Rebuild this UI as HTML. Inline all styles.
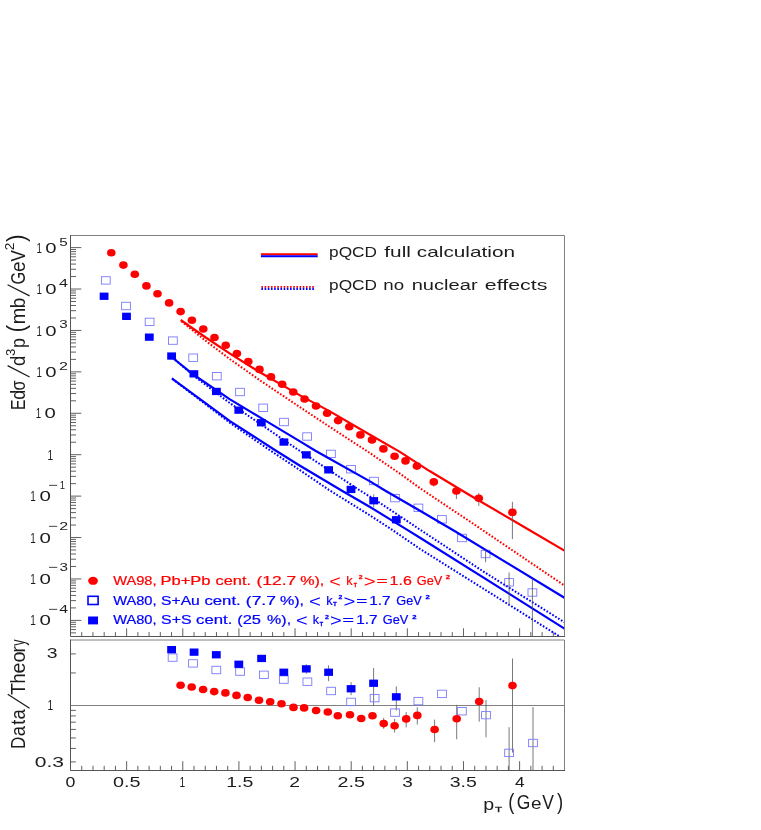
<!DOCTYPE html>
<html><head><meta charset="utf-8"><title>pQCD</title>
<style>html,body{margin:0;padding:0;background:#fff}svg{display:block;will-change:transform}text{font-family:"Liberation Sans",sans-serif}</style>
</head><body>
<svg width="761" height="830" viewBox="0 0 761 830">
<rect width="761" height="830" fill="#fff"/>
<defs><clipPath id="c1"><rect x="70.5" y="235.5" width="494.0" height="401.0"/></clipPath><clipPath id="c2"><rect x="70.5" y="640.0" width="494.0" height="130.5"/></clipPath></defs>
<g stroke="#606060" stroke-width="1" fill="none">
<path d="M70.5,632.85h5.5"/>
<path d="M70.5,629.57h5.5"/>
<path d="M70.5,626.80h5.5"/>
<path d="M70.5,624.39h5.5"/>
<path d="M70.5,622.28h5.5"/>
<path d="M70.5,620.38h10.8"/>
<path d="M70.5,607.91h5.5"/>
<path d="M70.5,600.62h5.5"/>
<path d="M70.5,595.44h5.5"/>
<path d="M70.5,591.43h5.5"/>
<path d="M70.5,588.15h5.5"/>
<path d="M70.5,585.38h5.5"/>
<path d="M70.5,582.97h5.5"/>
<path d="M70.5,580.86h5.5"/>
<path d="M70.5,578.96h10.8"/>
<path d="M70.5,566.49h5.5"/>
<path d="M70.5,559.20h5.5"/>
<path d="M70.5,554.02h5.5"/>
<path d="M70.5,550.01h5.5"/>
<path d="M70.5,546.73h5.5"/>
<path d="M70.5,543.96h5.5"/>
<path d="M70.5,541.55h5.5"/>
<path d="M70.5,539.44h5.5"/>
<path d="M70.5,537.54h10.8"/>
<path d="M70.5,525.07h5.5"/>
<path d="M70.5,517.78h5.5"/>
<path d="M70.5,512.60h5.5"/>
<path d="M70.5,508.59h5.5"/>
<path d="M70.5,505.31h5.5"/>
<path d="M70.5,502.54h5.5"/>
<path d="M70.5,500.13h5.5"/>
<path d="M70.5,498.02h5.5"/>
<path d="M70.5,496.12h10.8"/>
<path d="M70.5,483.65h5.5"/>
<path d="M70.5,476.36h5.5"/>
<path d="M70.5,471.18h5.5"/>
<path d="M70.5,467.17h5.5"/>
<path d="M70.5,463.89h5.5"/>
<path d="M70.5,461.12h5.5"/>
<path d="M70.5,458.71h5.5"/>
<path d="M70.5,456.60h5.5"/>
<path d="M70.5,454.70h10.8"/>
<path d="M70.5,442.23h5.5"/>
<path d="M70.5,434.94h5.5"/>
<path d="M70.5,429.76h5.5"/>
<path d="M70.5,425.75h5.5"/>
<path d="M70.5,422.47h5.5"/>
<path d="M70.5,419.70h5.5"/>
<path d="M70.5,417.29h5.5"/>
<path d="M70.5,415.18h5.5"/>
<path d="M70.5,413.28h10.8"/>
<path d="M70.5,400.81h5.5"/>
<path d="M70.5,393.52h5.5"/>
<path d="M70.5,388.34h5.5"/>
<path d="M70.5,384.33h5.5"/>
<path d="M70.5,381.05h5.5"/>
<path d="M70.5,378.28h5.5"/>
<path d="M70.5,375.87h5.5"/>
<path d="M70.5,373.76h5.5"/>
<path d="M70.5,371.86h10.8"/>
<path d="M70.5,359.39h5.5"/>
<path d="M70.5,352.10h5.5"/>
<path d="M70.5,346.92h5.5"/>
<path d="M70.5,342.91h5.5"/>
<path d="M70.5,339.63h5.5"/>
<path d="M70.5,336.86h5.5"/>
<path d="M70.5,334.45h5.5"/>
<path d="M70.5,332.34h5.5"/>
<path d="M70.5,330.44h10.8"/>
<path d="M70.5,317.97h5.5"/>
<path d="M70.5,310.68h5.5"/>
<path d="M70.5,305.50h5.5"/>
<path d="M70.5,301.49h5.5"/>
<path d="M70.5,298.21h5.5"/>
<path d="M70.5,295.44h5.5"/>
<path d="M70.5,293.03h5.5"/>
<path d="M70.5,290.92h5.5"/>
<path d="M70.5,289.02h10.8"/>
<path d="M70.5,276.55h5.5"/>
<path d="M70.5,269.26h5.5"/>
<path d="M70.5,264.08h5.5"/>
<path d="M70.5,260.07h5.5"/>
<path d="M70.5,256.79h5.5"/>
<path d="M70.5,254.02h5.5"/>
<path d="M70.5,251.61h5.5"/>
<path d="M70.5,249.50h5.5"/>
<path d="M70.5,247.60h10.8"/>
<path d="M81.73,636.5v-4.4"/>
<path d="M92.96,636.5v-4.4"/>
<path d="M104.18,636.5v-4.4"/>
<path d="M115.41,636.5v-4.4"/>
<path d="M126.64,636.5v-8.2"/>
<path d="M137.87,636.5v-4.4"/>
<path d="M149.10,636.5v-4.4"/>
<path d="M160.32,636.5v-4.4"/>
<path d="M171.55,636.5v-4.4"/>
<path d="M182.78,636.5v-8.2"/>
<path d="M194.01,636.5v-4.4"/>
<path d="M205.24,636.5v-4.4"/>
<path d="M216.46,636.5v-4.4"/>
<path d="M227.69,636.5v-4.4"/>
<path d="M238.92,636.5v-8.2"/>
<path d="M250.15,636.5v-4.4"/>
<path d="M261.38,636.5v-4.4"/>
<path d="M272.60,636.5v-4.4"/>
<path d="M283.83,636.5v-4.4"/>
<path d="M295.06,636.5v-8.2"/>
<path d="M306.29,636.5v-4.4"/>
<path d="M317.52,636.5v-4.4"/>
<path d="M328.74,636.5v-4.4"/>
<path d="M339.97,636.5v-4.4"/>
<path d="M351.20,636.5v-8.2"/>
<path d="M362.43,636.5v-4.4"/>
<path d="M373.66,636.5v-4.4"/>
<path d="M384.88,636.5v-4.4"/>
<path d="M396.11,636.5v-4.4"/>
<path d="M407.34,636.5v-8.2"/>
<path d="M418.57,636.5v-4.4"/>
<path d="M429.80,636.5v-4.4"/>
<path d="M441.02,636.5v-4.4"/>
<path d="M452.25,636.5v-4.4"/>
<path d="M463.48,636.5v-8.2"/>
<path d="M474.71,636.5v-4.4"/>
<path d="M485.94,636.5v-4.4"/>
<path d="M497.16,636.5v-4.4"/>
<path d="M508.39,636.5v-4.4"/>
<path d="M519.62,636.5v-8.2"/>
<path d="M530.85,636.5v-4.4"/>
<path d="M542.08,636.5v-4.4"/>
<path d="M553.30,636.5v-4.4"/>
<path d="M81.73,770.5v-4.7"/>
<path d="M92.96,770.5v-4.7"/>
<path d="M104.18,770.5v-4.7"/>
<path d="M115.41,770.5v-4.7"/>
<path d="M126.64,770.5v-9.3"/>
<path d="M137.87,770.5v-4.7"/>
<path d="M149.10,770.5v-4.7"/>
<path d="M160.32,770.5v-4.7"/>
<path d="M171.55,770.5v-4.7"/>
<path d="M182.78,770.5v-9.3"/>
<path d="M194.01,770.5v-4.7"/>
<path d="M205.24,770.5v-4.7"/>
<path d="M216.46,770.5v-4.7"/>
<path d="M227.69,770.5v-4.7"/>
<path d="M238.92,770.5v-9.3"/>
<path d="M250.15,770.5v-4.7"/>
<path d="M261.38,770.5v-4.7"/>
<path d="M272.60,770.5v-4.7"/>
<path d="M283.83,770.5v-4.7"/>
<path d="M295.06,770.5v-9.3"/>
<path d="M306.29,770.5v-4.7"/>
<path d="M317.52,770.5v-4.7"/>
<path d="M328.74,770.5v-4.7"/>
<path d="M339.97,770.5v-4.7"/>
<path d="M351.20,770.5v-9.3"/>
<path d="M362.43,770.5v-4.7"/>
<path d="M373.66,770.5v-4.7"/>
<path d="M384.88,770.5v-4.7"/>
<path d="M396.11,770.5v-4.7"/>
<path d="M407.34,770.5v-9.3"/>
<path d="M418.57,770.5v-4.7"/>
<path d="M429.80,770.5v-4.7"/>
<path d="M441.02,770.5v-4.7"/>
<path d="M452.25,770.5v-4.7"/>
<path d="M463.48,770.5v-9.3"/>
<path d="M474.71,770.5v-4.7"/>
<path d="M485.94,770.5v-4.7"/>
<path d="M497.16,770.5v-4.7"/>
<path d="M508.39,770.5v-4.7"/>
<path d="M519.62,770.5v-9.3"/>
<path d="M530.85,770.5v-4.7"/>
<path d="M542.08,770.5v-4.7"/>
<path d="M553.30,770.5v-4.7"/>
<path d="M70.5,653.92h5.3"/>
<path d="M70.5,672.94h5.3"/>
<path d="M70.5,710.39h5.3"/>
<path d="M70.5,715.92h5.3"/>
<path d="M70.5,722.18h5.3"/>
<path d="M70.5,729.41h5.3"/>
<path d="M70.5,737.96h5.3"/>
<path d="M70.5,748.43h5.3"/>
<path d="M70.5,761.92h5.3"/>
<path d="M70.5,705.5H564.5" stroke="#808080"/>
</g>
<rect x="101.4" y="276.7" width="8.8" height="7.4" fill="none" stroke="#7a7aff" stroke-width="0.9"/>
<rect x="121.6" y="302.3" width="8.8" height="7.4" fill="none" stroke="#7a7aff" stroke-width="0.9"/>
<rect x="145.2" y="318.2" width="8.8" height="7.4" fill="none" stroke="#7a7aff" stroke-width="0.9"/>
<rect x="168.5" y="336.9" width="8.8" height="7.4" fill="none" stroke="#7a7aff" stroke-width="0.9"/>
<rect x="188.8" y="354.0" width="8.8" height="7.4" fill="none" stroke="#7a7aff" stroke-width="0.9"/>
<rect x="212.4" y="372.5" width="8.8" height="7.4" fill="none" stroke="#7a7aff" stroke-width="0.9"/>
<rect x="235.6" y="388.3" width="8.8" height="7.4" fill="none" stroke="#7a7aff" stroke-width="0.9"/>
<rect x="258.8" y="404.1" width="8.8" height="7.4" fill="none" stroke="#7a7aff" stroke-width="0.9"/>
<rect x="279.6" y="418.3" width="8.8" height="7.4" fill="none" stroke="#7a7aff" stroke-width="0.9"/>
<rect x="302.7" y="432.8" width="8.8" height="7.4" fill="none" stroke="#7a7aff" stroke-width="0.9"/>
<rect x="326.5" y="450.2" width="8.8" height="7.4" fill="none" stroke="#7a7aff" stroke-width="0.9"/>
<rect x="346.6" y="465.5" width="8.8" height="7.4" fill="none" stroke="#7a7aff" stroke-width="0.9"/>
<rect x="369.6" y="477.3" width="8.8" height="7.4" fill="none" stroke="#7a7aff" stroke-width="0.9"/>
<rect x="390.6" y="494.4" width="8.8" height="7.4" fill="none" stroke="#7a7aff" stroke-width="0.9"/>
<rect x="414.0" y="504.1" width="8.8" height="7.4" fill="none" stroke="#7a7aff" stroke-width="0.9"/>
<rect x="437.5" y="515.6" width="8.8" height="7.4" fill="none" stroke="#7a7aff" stroke-width="0.9"/>
<rect x="457.6" y="534.3" width="8.8" height="7.4" fill="none" stroke="#7a7aff" stroke-width="0.9"/>
<rect x="481.2" y="550.3" width="8.8" height="7.4" fill="none" stroke="#7a7aff" stroke-width="0.9"/>
<rect x="504.7" y="578.6" width="8.8" height="7.4" fill="none" stroke="#7a7aff" stroke-width="0.9"/>
<rect x="528.0" y="588.8" width="8.8" height="7.4" fill="none" stroke="#7a7aff" stroke-width="0.9"/>
<g clip-path="url(#c1)">
<path d="M181.5,321.3 L205.0,340.3 L230.0,359.2 L259.9,380.3 L300.0,407.2 L329.9,427.0 L370.0,453.1 L399.9,473.6 L420.0,488.2 L469.9,521.5 L564.8,585.8" stroke="#ff0000" stroke-width="2.0" stroke-dasharray="1.7 1.7" fill="none"/>
<path d="M172.5,357.5 L194.0,376.0 L230.0,403.2 L298.3,449.9 L313.1,459.6 L359.1,489.9 L377.9,501.6 L420.0,529.6 L485.0,572.6 L564.8,622.5" stroke="#0000ff" stroke-width="2.0" stroke-dasharray="1.7 1.7" fill="none"/>
<path d="M172.5,379.0 L230.0,422.9 L269.4,449.9 L300.0,470.2 L328.9,489.9 L370.0,515.4 L392.3,529.9 L420.0,548.9 L559.5,636.4" stroke="#0000ff" stroke-width="2.0" stroke-dasharray="1.7 1.7" fill="none"/>
<path d="M180.7,320.0 L205.0,337.0 L230.0,353.7 L259.9,372.3 L300.0,395.4 L329.9,411.4 L370.0,434.7 L399.9,451.9 L429.2,470.8 L469.9,495.2 L528.0,529.3 L564.8,550.8" stroke="#ff0000" stroke-width="2.2" fill="none"/>
<path d="M171.6,357.0 L194.0,375.0 L230.0,399.4 L300.0,441.4 L315.4,450.7 L370.0,481.4 L385.4,490.7 L420.0,510.8 L454.1,530.7 L564.8,598.0" stroke="#0000ff" stroke-width="2.2" fill="none"/>
<path d="M171.8,378.3 L230.0,421.1 L276.0,450.7 L300.0,465.7 L342.0,490.7 L370.0,507.0 L408.1,530.4 L420.0,537.7 L564.8,628.8" stroke="#0000ff" stroke-width="2.2" fill="none"/>
</g>
<path d="M485.6,550.0V562.2" stroke="#555555" stroke-width="0.8" fill="none"/>
<path d="M509.1,572.5V605.2" stroke="#555555" stroke-width="0.8" fill="none"/>
<path d="M532.4,578.6V636.4" stroke="#555555" stroke-width="0.8" fill="none"/>
<path d="M373.7,494.4V507.5" stroke="#555555" stroke-width="0.8" fill="none"/>
<path d="M456.4,486.4V499.0" stroke="#555555" stroke-width="0.8" fill="none"/>
<path d="M478.8,493.0V505.9" stroke="#555555" stroke-width="0.8" fill="none"/>
<path d="M512.4,501.8V539.1" stroke="#555555" stroke-width="0.8" fill="none"/>
<path d="M433.8,478.5V486.5" stroke="#555555" stroke-width="0.8" fill="none"/>
<rect x="99.7" y="292.6" width="8.8" height="7.3" fill="#0000ff"/>
<rect x="122.1" y="312.7" width="8.8" height="7.3" fill="#0000ff"/>
<rect x="144.9" y="333.5" width="8.8" height="7.3" fill="#0000ff"/>
<rect x="167.2" y="352.4" width="8.8" height="7.3" fill="#0000ff"/>
<rect x="189.5" y="370.2" width="8.8" height="7.3" fill="#0000ff"/>
<rect x="212.0" y="387.8" width="8.8" height="7.3" fill="#0000ff"/>
<rect x="234.4" y="406.5" width="8.8" height="7.3" fill="#0000ff"/>
<rect x="256.9" y="419.1" width="8.8" height="7.3" fill="#0000ff"/>
<rect x="279.5" y="438.4" width="8.8" height="7.3" fill="#0000ff"/>
<rect x="301.9" y="451.2" width="8.8" height="7.3" fill="#0000ff"/>
<rect x="324.2" y="466.2" width="8.8" height="7.3" fill="#0000ff"/>
<rect x="346.6" y="485.8" width="8.8" height="7.3" fill="#0000ff"/>
<rect x="369.3" y="497.1" width="8.8" height="7.3" fill="#0000ff"/>
<rect x="391.9" y="516.1" width="8.8" height="7.3" fill="#0000ff"/>
<ellipse cx="111.3" cy="252.7" rx="4.3" ry="3.8" fill="#ff0000"/>
<ellipse cx="123.4" cy="265.1" rx="4.3" ry="3.8" fill="#ff0000"/>
<ellipse cx="134.8" cy="274.3" rx="4.3" ry="3.8" fill="#ff0000"/>
<ellipse cx="146.4" cy="285.9" rx="4.3" ry="3.8" fill="#ff0000"/>
<ellipse cx="157.5" cy="293.8" rx="4.3" ry="3.8" fill="#ff0000"/>
<ellipse cx="169.1" cy="302.9" rx="4.3" ry="3.8" fill="#ff0000"/>
<ellipse cx="180.6" cy="311.6" rx="4.3" ry="3.8" fill="#ff0000"/>
<ellipse cx="191.9" cy="320.2" rx="4.3" ry="3.8" fill="#ff0000"/>
<ellipse cx="203.3" cy="329.0" rx="4.3" ry="3.8" fill="#ff0000"/>
<ellipse cx="214.5" cy="337.5" rx="4.3" ry="3.8" fill="#ff0000"/>
<ellipse cx="225.7" cy="345.3" rx="4.3" ry="3.8" fill="#ff0000"/>
<ellipse cx="236.9" cy="353.6" rx="4.3" ry="3.8" fill="#ff0000"/>
<ellipse cx="248.3" cy="361.6" rx="4.3" ry="3.8" fill="#ff0000"/>
<ellipse cx="259.5" cy="369.4" rx="4.3" ry="3.8" fill="#ff0000"/>
<ellipse cx="271.0" cy="376.9" rx="4.3" ry="3.8" fill="#ff0000"/>
<ellipse cx="282.2" cy="384.2" rx="4.3" ry="3.8" fill="#ff0000"/>
<ellipse cx="293.3" cy="392.0" rx="4.3" ry="3.8" fill="#ff0000"/>
<ellipse cx="304.6" cy="399.0" rx="4.3" ry="3.8" fill="#ff0000"/>
<ellipse cx="316.0" cy="406.0" rx="4.3" ry="3.8" fill="#ff0000"/>
<ellipse cx="327.1" cy="413.2" rx="4.3" ry="3.8" fill="#ff0000"/>
<ellipse cx="338.1" cy="420.6" rx="4.3" ry="3.8" fill="#ff0000"/>
<ellipse cx="349.3" cy="426.8" rx="4.3" ry="3.8" fill="#ff0000"/>
<ellipse cx="360.4" cy="434.9" rx="4.3" ry="3.8" fill="#ff0000"/>
<ellipse cx="372.0" cy="439.9" rx="4.3" ry="3.8" fill="#ff0000"/>
<ellipse cx="383.4" cy="448.9" rx="4.3" ry="3.8" fill="#ff0000"/>
<ellipse cx="394.6" cy="456.3" rx="4.3" ry="3.8" fill="#ff0000"/>
<ellipse cx="405.5" cy="460.9" rx="4.3" ry="3.8" fill="#ff0000"/>
<ellipse cx="416.9" cy="466.1" rx="4.3" ry="3.8" fill="#ff0000"/>
<ellipse cx="433.8" cy="481.9" rx="4.3" ry="3.8" fill="#ff0000"/>
<ellipse cx="456.4" cy="491.0" rx="4.3" ry="3.8" fill="#ff0000"/>
<ellipse cx="478.8" cy="498.3" rx="4.3" ry="3.8" fill="#ff0000"/>
<ellipse cx="512.4" cy="512.4" rx="4.3" ry="3.8" fill="#ff0000"/>
<path d="M486.0,700.2V737.3" stroke="#555555" stroke-width="0.8" fill="none"/>
<path d="M509.1,727.2V770.3" stroke="#555555" stroke-width="0.8" fill="none"/>
<path d="M533.0,707.0V770.3" stroke="#555555" stroke-width="0.8" fill="none"/>
<path d="M306.3,664.3V673.7" stroke="#555555" stroke-width="0.8" fill="none"/>
<path d="M328.6,665.3V681.1" stroke="#555555" stroke-width="0.8" fill="none"/>
<path d="M351.1,682.2V695.2" stroke="#555555" stroke-width="0.8" fill="none"/>
<path d="M373.6,667.9V705.7" stroke="#555555" stroke-width="0.8" fill="none"/>
<path d="M396.3,686.4V710.5" stroke="#555555" stroke-width="0.8" fill="none"/>
<path d="M383.7,717.9V728.8" stroke="#555555" stroke-width="0.8" fill="none"/>
<path d="M394.6,718.9V732.6" stroke="#555555" stroke-width="0.8" fill="none"/>
<path d="M406.2,712.0V727.4" stroke="#555555" stroke-width="0.8" fill="none"/>
<path d="M417.3,707.4V724.6" stroke="#555555" stroke-width="0.8" fill="none"/>
<path d="M434.6,719.6V742.1" stroke="#555555" stroke-width="0.8" fill="none"/>
<path d="M456.7,704.9V739.3" stroke="#555555" stroke-width="0.8" fill="none"/>
<path d="M479.2,687.3V721.7" stroke="#555555" stroke-width="0.8" fill="none"/>
<path d="M512.5,658.5V752.5" stroke="#555555" stroke-width="0.8" fill="none"/>
<rect x="168.2" y="653.9" width="8.8" height="7.4" fill="none" stroke="#7a7aff" stroke-width="0.9"/>
<rect x="188.6" y="659.7" width="8.8" height="7.4" fill="none" stroke="#7a7aff" stroke-width="0.9"/>
<rect x="211.9" y="666.3" width="8.8" height="7.4" fill="none" stroke="#7a7aff" stroke-width="0.9"/>
<rect x="235.7" y="667.9" width="8.8" height="7.4" fill="none" stroke="#7a7aff" stroke-width="0.9"/>
<rect x="259.5" y="671.1" width="8.8" height="7.4" fill="none" stroke="#7a7aff" stroke-width="0.9"/>
<rect x="279.4" y="675.9" width="8.8" height="7.4" fill="none" stroke="#7a7aff" stroke-width="0.9"/>
<rect x="303.0" y="678.0" width="8.8" height="7.4" fill="none" stroke="#7a7aff" stroke-width="0.9"/>
<rect x="326.7" y="687.3" width="8.8" height="7.4" fill="none" stroke="#7a7aff" stroke-width="0.9"/>
<rect x="346.7" y="698.2" width="8.8" height="7.4" fill="none" stroke="#7a7aff" stroke-width="0.9"/>
<rect x="370.2" y="694.4" width="8.8" height="7.4" fill="none" stroke="#7a7aff" stroke-width="0.9"/>
<rect x="390.6" y="708.9" width="8.8" height="7.4" fill="none" stroke="#7a7aff" stroke-width="0.9"/>
<rect x="414.0" y="697.4" width="8.8" height="7.4" fill="none" stroke="#7a7aff" stroke-width="0.9"/>
<rect x="437.6" y="690.2" width="8.8" height="7.4" fill="none" stroke="#7a7aff" stroke-width="0.9"/>
<rect x="457.5" y="707.5" width="8.8" height="7.4" fill="none" stroke="#7a7aff" stroke-width="0.9"/>
<rect x="481.6" y="711.4" width="8.8" height="7.4" fill="none" stroke="#7a7aff" stroke-width="0.9"/>
<rect x="504.7" y="749.2" width="8.8" height="7.4" fill="none" stroke="#7a7aff" stroke-width="0.9"/>
<rect x="528.6" y="739.3" width="8.8" height="7.4" fill="none" stroke="#7a7aff" stroke-width="0.9"/>
<rect x="167.2" y="646.0" width="8.8" height="7.3" fill="#0000ff"/>
<rect x="189.7" y="648.5" width="8.8" height="7.3" fill="#0000ff"/>
<rect x="211.9" y="651.1" width="8.8" height="7.3" fill="#0000ff"/>
<rect x="234.4" y="660.6" width="8.8" height="7.3" fill="#0000ff"/>
<rect x="257.2" y="654.8" width="8.8" height="7.3" fill="#0000ff"/>
<rect x="279.4" y="668.6" width="8.8" height="7.3" fill="#0000ff"/>
<rect x="301.9" y="665.2" width="8.8" height="7.3" fill="#0000ff"/>
<rect x="324.2" y="668.6" width="8.8" height="7.3" fill="#0000ff"/>
<rect x="346.7" y="685.1" width="8.8" height="7.3" fill="#0000ff"/>
<rect x="369.2" y="679.6" width="8.8" height="7.3" fill="#0000ff"/>
<rect x="391.9" y="693.2" width="8.8" height="7.3" fill="#0000ff"/>
<ellipse cx="180.6" cy="685.3" rx="4.3" ry="3.8" fill="#ff0000"/>
<ellipse cx="191.7" cy="687.0" rx="4.3" ry="3.8" fill="#ff0000"/>
<ellipse cx="203.1" cy="689.5" rx="4.3" ry="3.8" fill="#ff0000"/>
<ellipse cx="214.2" cy="691.6" rx="4.3" ry="3.8" fill="#ff0000"/>
<ellipse cx="225.4" cy="692.9" rx="4.3" ry="3.8" fill="#ff0000"/>
<ellipse cx="236.5" cy="695.4" rx="4.3" ry="3.8" fill="#ff0000"/>
<ellipse cx="247.7" cy="697.5" rx="4.3" ry="3.8" fill="#ff0000"/>
<ellipse cx="259.0" cy="700.2" rx="4.3" ry="3.8" fill="#ff0000"/>
<ellipse cx="270.2" cy="701.7" rx="4.3" ry="3.8" fill="#ff0000"/>
<ellipse cx="281.5" cy="703.8" rx="4.3" ry="3.8" fill="#ff0000"/>
<ellipse cx="293.5" cy="707.4" rx="4.3" ry="3.8" fill="#ff0000"/>
<ellipse cx="304.1" cy="707.9" rx="4.3" ry="3.8" fill="#ff0000"/>
<ellipse cx="316.1" cy="710.5" rx="4.3" ry="3.8" fill="#ff0000"/>
<ellipse cx="327.8" cy="712.0" rx="4.3" ry="3.8" fill="#ff0000"/>
<ellipse cx="337.8" cy="715.8" rx="4.3" ry="3.8" fill="#ff0000"/>
<ellipse cx="350.0" cy="714.7" rx="4.3" ry="3.8" fill="#ff0000"/>
<ellipse cx="361.2" cy="718.5" rx="4.3" ry="3.8" fill="#ff0000"/>
<ellipse cx="372.5" cy="715.8" rx="4.3" ry="3.8" fill="#ff0000"/>
<ellipse cx="383.7" cy="723.6" rx="4.3" ry="3.8" fill="#ff0000"/>
<ellipse cx="394.6" cy="725.7" rx="4.3" ry="3.8" fill="#ff0000"/>
<ellipse cx="406.2" cy="718.9" rx="4.3" ry="3.8" fill="#ff0000"/>
<ellipse cx="417.3" cy="715.4" rx="4.3" ry="3.8" fill="#ff0000"/>
<ellipse cx="434.6" cy="729.5" rx="4.3" ry="3.8" fill="#ff0000"/>
<ellipse cx="456.7" cy="718.8" rx="4.3" ry="3.8" fill="#ff0000"/>
<ellipse cx="479.2" cy="701.5" rx="4.3" ry="3.8" fill="#ff0000"/>
<ellipse cx="512.5" cy="685.6" rx="4.3" ry="3.8" fill="#ff0000"/>
<g stroke="#808080" stroke-width="1" fill="none">
<path d="M70.5,235.5H564.5V636.5"/>
<path d="M70.5,640.0H564.5V770.5"/>
</g>
<g stroke="#555555" stroke-width="1" fill="none">
<path d="M70.5,235.0V636.5H565.0"/>
<path d="M70.5,639.5V770.5H565.0"/>
</g>
<path d="M260.9,254.2H317.7" stroke="#ff0000" stroke-width="2.1"/>
<path d="M260.9,256.25H317.7" stroke="#0000ff" stroke-width="2.1"/>
<path d="M261.4,286.9H315.5" stroke="#ff0000" stroke-width="1.6" stroke-dasharray="1.6 1.58"/>
<path d="M261.4,288.9H315.5" stroke="#0000ff" stroke-width="2.4" stroke-dasharray="1.6 1.58"/>
<g font-family="Liberation Sans, sans-serif">
<text transform="translate(329.08,257.30) scale(1.1356,1.0)" font-size="15.2" fill="#1c1c1c">pQCD</text>
<text transform="translate(384.31,257.30) scale(1.3686,1.0)" font-size="15.2" fill="#1c1c1c">full</text>
<text transform="translate(416.83,257.30) scale(1.3676,1.0)" font-size="15.2" fill="#1c1c1c">calculation</text>
<text transform="translate(329.08,289.60) scale(1.1356,1.0)" font-size="15.2" fill="#1c1c1c">pQCD</text>
<text transform="translate(383.36,289.60) scale(1.2319,1.0)" font-size="15.2" fill="#1c1c1c">no</text>
<text transform="translate(411.67,289.60) scale(1.3232,1.0)" font-size="15.2" fill="#1c1c1c">nuclear</text>
<text transform="translate(484.80,289.60) scale(1.4058,1.0)" font-size="15.2" fill="#1c1c1c">effects</text>
<text transform="translate(36.46,252.90) scale(0.6369,1.0)" font-size="15.3" fill="#1c1c1c">1</text>
<text transform="translate(45.21,252.90) scale(1.3263,1.0)" font-size="15.3" fill="#1c1c1c">0</text>
<text transform="translate(59.29,245.50) scale(1.2873,1.0)" font-size="11.8" fill="#1c1c1c">5</text>
<text transform="translate(36.46,294.32) scale(0.6369,1.0)" font-size="15.3" fill="#1c1c1c">1</text>
<text transform="translate(45.21,294.32) scale(1.3263,1.0)" font-size="15.3" fill="#1c1c1c">0</text>
<text transform="translate(58.93,286.92) scale(1.3620,1.0)" font-size="11.8" fill="#1c1c1c">4</text>
<text transform="translate(36.46,335.74) scale(0.6369,1.0)" font-size="15.3" fill="#1c1c1c">1</text>
<text transform="translate(45.21,335.74) scale(1.3263,1.0)" font-size="15.3" fill="#1c1c1c">0</text>
<text transform="translate(59.32,328.34) scale(1.2873,1.0)" font-size="11.8" fill="#1c1c1c">3</text>
<text transform="translate(36.46,377.16) scale(0.6369,1.0)" font-size="15.3" fill="#1c1c1c">1</text>
<text transform="translate(45.21,377.16) scale(1.3263,1.0)" font-size="15.3" fill="#1c1c1c">0</text>
<text transform="translate(59.10,369.76) scale(1.3567,1.0)" font-size="11.8" fill="#1c1c1c">2</text>
<text transform="translate(35.66,418.18) scale(0.6369,1.0)" font-size="15.3" fill="#1c1c1c">1</text>
<text transform="translate(44.41,418.18) scale(1.3263,1.0)" font-size="15.3" fill="#1c1c1c">0</text>
<text transform="translate(47.42,459.60) scale(0.6672,1.0)" font-size="15.3" fill="#1c1c1c">1</text>
<text transform="translate(30.24,501.12) scale(0.6521,1.0)" font-size="15.3" fill="#1c1c1c">1</text>
<text transform="translate(39.40,501.12) scale(1.3400,1.0)" font-size="15.3" fill="#1c1c1c">0</text>
<text transform="translate(48.47,488.52) scale(1.4299,1.0)" font-size="11.8" fill="#1c1c1c">−</text>
<text transform="translate(59.78,488.52) scale(0.8062,1.0)" font-size="11.8" fill="#1c1c1c">1</text>
<text transform="translate(30.24,542.54) scale(0.6521,1.0)" font-size="15.3" fill="#1c1c1c">1</text>
<text transform="translate(39.40,542.54) scale(1.3400,1.0)" font-size="15.3" fill="#1c1c1c">0</text>
<text transform="translate(48.47,529.94) scale(1.4299,1.0)" font-size="11.8" fill="#1c1c1c">−</text>
<text transform="translate(59.30,529.94) scale(1.3567,1.0)" font-size="11.8" fill="#1c1c1c">2</text>
<text transform="translate(30.24,583.96) scale(0.6521,1.0)" font-size="15.3" fill="#1c1c1c">1</text>
<text transform="translate(39.40,583.96) scale(1.3400,1.0)" font-size="15.3" fill="#1c1c1c">0</text>
<text transform="translate(48.47,571.36) scale(1.4299,1.0)" font-size="11.8" fill="#1c1c1c">−</text>
<text transform="translate(59.52,571.36) scale(1.2873,1.0)" font-size="11.8" fill="#1c1c1c">3</text>
<text transform="translate(30.24,625.38) scale(0.6521,1.0)" font-size="15.3" fill="#1c1c1c">1</text>
<text transform="translate(39.40,625.38) scale(1.3400,1.0)" font-size="15.3" fill="#1c1c1c">0</text>
<text transform="translate(48.47,612.78) scale(1.4299,1.0)" font-size="11.8" fill="#1c1c1c">−</text>
<text transform="translate(59.23,612.78) scale(1.3452,1.0)" font-size="11.8" fill="#1c1c1c">4</text>
<text transform="translate(46.66,658.10) scale(1.2686,1.0)" font-size="15.3" fill="#1c1c1c">3</text>
<text transform="translate(47.42,710.00) scale(0.6672,1.0)" font-size="15.3" fill="#1c1c1c">1</text>
<text transform="translate(34.78,767.00) scale(1.3752,1.0)" font-size="15.3" fill="#1c1c1c">0.3</text>
<text transform="translate(65.61,787.00) scale(1.1623,1.0)" font-size="15.3" fill="#1c1c1c">0</text>
<text transform="translate(113.03,787.00) scale(1.2932,1.0)" font-size="15.3" fill="#1c1c1c">0.5</text>
<text transform="translate(179.42,787.00) scale(0.6672,1.0)" font-size="15.3" fill="#1c1c1c">1</text>
<text transform="translate(226.22,787.00) scale(1.2743,1.0)" font-size="15.3" fill="#1c1c1c">1.5</text>
<text transform="translate(289.14,787.00) scale(1.2613,1.0)" font-size="15.3" fill="#1c1c1c">2</text>
<text transform="translate(337.51,787.00) scale(1.2891,1.0)" font-size="15.3" fill="#1c1c1c">2.5</text>
<text transform="translate(402.18,787.00) scale(1.2410,1.0)" font-size="15.3" fill="#1c1c1c">3</text>
<text transform="translate(449.66,787.00) scale(1.2723,1.0)" font-size="15.3" fill="#1c1c1c">3.5</text>
<text transform="translate(514.90,787.00) scale(1.1282,1.0)" font-size="15.3" fill="#1c1c1c">4</text>
<text transform="translate(483.33,809.60) scale(1.1329,1.0)" font-size="17.3" fill="#1c1c1c">p</text>
<text transform="translate(494.94,811.70) scale(1.5144,1.0)" font-size="7.7" fill="#1c1c1c" stroke="#1c1c1c" stroke-width="0.3">T</text>
<text transform="translate(508.35,809.30) scale(0.8405,1.0)" font-size="22" fill="#1c1c1c">(</text>
<text transform="translate(516.83,809.30) scale(0.8953,1.0)" font-size="19.5" fill="#1c1c1c">G</text>
<text transform="translate(531.00,809.30) scale(1.1476,1.0)" font-size="16.5" fill="#1c1c1c">e</text>
<text transform="translate(542.21,809.30) scale(0.8976,1.0)" font-size="19.5" fill="#1c1c1c">V</text>
<text transform="translate(556.99,809.30) scale(0.8405,1.0)" font-size="22" fill="#1c1c1c">)</text>
</g>
<ellipse cx="93.05" cy="580.8" rx="4.9" ry="4.0" fill="#ff0000"/>
<rect x="88.0" y="596.3" width="10.1" height="8.2" fill="none" stroke="#0000ff" stroke-width="1.6"/>
<rect x="88.1" y="616.5" width="9.9" height="7.9" fill="#0000ff"/>
<g font-family="Liberation Sans, sans-serif">
<text transform="translate(113.13,585.00) scale(1.2228,1.0)" font-size="12.0" fill="#ff0000" stroke="#ff0000" stroke-width="0.2">WA98,</text>
<text transform="translate(160.45,585.00) scale(1.3765,1.0)" font-size="12.0" fill="#ff0000" stroke="#ff0000" stroke-width="0.2">Pb+Pb</text>
<text transform="translate(215.51,585.00) scale(1.3677,1.0)" font-size="12.0" fill="#ff0000" stroke="#ff0000" stroke-width="0.2">cent.</text>
<text transform="translate(256.42,585.00) scale(1.4536,1.0)" font-size="12.0" fill="#ff0000" stroke="#ff0000" stroke-width="0.2">(12.7</text>
<text transform="translate(300.22,585.00) scale(1.3404,1.0)" font-size="12.0" fill="#ff0000" stroke="#ff0000" stroke-width="0.2">%),</text>
<text transform="translate(329.13,586.90) scale(1.1619,1.0)" font-size="17.0" fill="#ff0000">&lt;</text>
<text transform="translate(346.35,585.00) scale(1.0561,1.0)" font-size="12.0" fill="#ff0000" stroke="#ff0000" stroke-width="0.2">k</text>
<text transform="translate(363.70,586.90) scale(1.1983,1.0)" font-size="17.0" fill="#ff0000">&gt;</text>
<text transform="translate(376.47,585.00) scale(1.5775,1.0)" font-size="12.0" fill="#ff0000" stroke="#ff0000" stroke-width="0.2">=</text>
<text transform="translate(389.59,585.00) scale(1.3320,1.0)" font-size="12.0" fill="#ff0000" stroke="#ff0000" stroke-width="0.2">1.6</text>
<text transform="translate(416.86,585.00) scale(1.0620,1.0)" font-size="12.0" fill="#ff0000" stroke="#ff0000" stroke-width="0.2">GeV</text>
<text transform="translate(353.64,586.80) scale(1.1442,1.0)" font-size="4.6" fill="#ff0000" font-weight="bold" stroke="#ff0000" stroke-width="0.3">T</text>
<text transform="translate(358.76,579.30) scale(1.1066,1.0)" font-size="6.2" fill="#ff0000" font-weight="bold" stroke="#ff0000" stroke-width="0.25">2</text>
<text transform="translate(445.73,579.30) scale(1.2407,1.0)" font-size="6.2" fill="#ff0000" font-weight="bold" stroke="#ff0000" stroke-width="0.25">2</text>
<text transform="translate(113.13,604.60) scale(1.2228,1.0)" font-size="12.0" fill="#0000ff" stroke="#0000ff" stroke-width="0.2">WA80,</text>
<text transform="translate(161.08,604.60) scale(1.3054,1.0)" font-size="12.0" fill="#0000ff" stroke="#0000ff" stroke-width="0.2">S+Au</text>
<text transform="translate(204.40,604.60) scale(1.3964,1.0)" font-size="12.0" fill="#0000ff" stroke="#0000ff" stroke-width="0.2">cent.</text>
<text transform="translate(245.82,604.60) scale(1.4535,1.0)" font-size="12.0" fill="#0000ff" stroke="#0000ff" stroke-width="0.2">(7.7</text>
<text transform="translate(279.92,604.60) scale(1.3404,1.0)" font-size="12.0" fill="#0000ff" stroke="#0000ff" stroke-width="0.2">%),</text>
<text transform="translate(309.00,606.50) scale(1.1983,1.0)" font-size="17.0" fill="#0000ff">&lt;</text>
<text transform="translate(326.15,604.60) scale(1.0561,1.0)" font-size="12.0" fill="#0000ff" stroke="#0000ff" stroke-width="0.2">k</text>
<text transform="translate(343.50,606.50) scale(1.1983,1.0)" font-size="17.0" fill="#0000ff">&gt;</text>
<text transform="translate(356.27,604.60) scale(1.5775,1.0)" font-size="12.0" fill="#0000ff" stroke="#0000ff" stroke-width="0.2">=</text>
<text transform="translate(369.33,604.60) scale(1.2790,1.0)" font-size="12.0" fill="#0000ff" stroke="#0000ff" stroke-width="0.2">1.7</text>
<text transform="translate(396.26,604.60) scale(1.0620,1.0)" font-size="12.0" fill="#0000ff" stroke="#0000ff" stroke-width="0.2">GeV</text>
<text transform="translate(333.34,606.40) scale(1.1811,1.0)" font-size="4.6" fill="#0000ff" font-weight="bold" stroke="#0000ff" stroke-width="0.3">T</text>
<text transform="translate(338.56,598.90) scale(1.1066,1.0)" font-size="6.2" fill="#0000ff" font-weight="bold" stroke="#0000ff" stroke-width="0.25">2</text>
<text transform="translate(425.53,598.90) scale(1.2407,1.0)" font-size="6.2" fill="#0000ff" font-weight="bold" stroke="#0000ff" stroke-width="0.25">2</text>
<text transform="translate(113.13,624.30) scale(1.2228,1.0)" font-size="12.0" fill="#0000ff" stroke="#0000ff" stroke-width="0.2">WA80,</text>
<text transform="translate(161.07,624.30) scale(1.3280,1.0)" font-size="12.0" fill="#0000ff" stroke="#0000ff" stroke-width="0.2">S+S</text>
<text transform="translate(196.10,624.30) scale(1.3964,1.0)" font-size="12.0" fill="#0000ff" stroke="#0000ff" stroke-width="0.2">cent.</text>
<text transform="translate(237.18,624.30) scale(1.3734,1.0)" font-size="12.0" fill="#0000ff" stroke="#0000ff" stroke-width="0.2">(25</text>
<text transform="translate(267.12,624.30) scale(1.3343,1.0)" font-size="12.0" fill="#0000ff" stroke="#0000ff" stroke-width="0.2">%),</text>
<text transform="translate(296.12,626.20) scale(1.1740,1.0)" font-size="17.0" fill="#0000ff">&lt;</text>
<text transform="translate(312.85,624.30) scale(1.0561,1.0)" font-size="12.0" fill="#0000ff" stroke="#0000ff" stroke-width="0.2">k</text>
<text transform="translate(330.01,626.20) scale(1.1862,1.0)" font-size="17.0" fill="#0000ff">&gt;</text>
<text transform="translate(342.53,624.30) scale(1.6461,1.0)" font-size="12.0" fill="#0000ff" stroke="#0000ff" stroke-width="0.2">=</text>
<text transform="translate(356.13,624.30) scale(1.2790,1.0)" font-size="12.0" fill="#0000ff" stroke="#0000ff" stroke-width="0.2">1.7</text>
<text transform="translate(382.86,624.30) scale(1.0620,1.0)" font-size="12.0" fill="#0000ff" stroke="#0000ff" stroke-width="0.2">GeV</text>
<text transform="translate(319.84,626.10) scale(1.1811,1.0)" font-size="4.6" fill="#0000ff" font-weight="bold" stroke="#0000ff" stroke-width="0.3">T</text>
<text transform="translate(324.95,618.60) scale(1.1401,1.0)" font-size="6.2" fill="#0000ff" font-weight="bold" stroke="#0000ff" stroke-width="0.25">2</text>
<text transform="translate(412.23,618.60) scale(1.2407,1.0)" font-size="6.2" fill="#0000ff" font-weight="bold" stroke="#0000ff" stroke-width="0.25">2</text>
</g>
<g font-family="Liberation Sans, sans-serif" transform="translate(24.6,0) rotate(-90)">
<text transform="translate(-409.99,0.00) scale(0.7540,1.0)" font-size="20.8" fill="#1c1c1c">E</text>
<text transform="translate(-399.75,0.00) scale(0.8547,1.0)" font-size="20.8" fill="#1c1c1c">d</text>
<text transform="translate(-390.48,0.00) scale(0.7813,1.0)" font-size="20.8" fill="#1c1c1c">σ</text>
<text transform="translate(-365.98,0.00) scale(0.8974,1.0)" font-size="20.8" fill="#1c1c1c">d</text>
<text transform="translate(-348.06,0.00) scale(0.8566,1.0)" font-size="20.8" fill="#1c1c1c">p</text>
<text transform="translate(-324.21,0.00) scale(0.9533,1.0)" font-size="20.8" fill="#1c1c1c">m</text>
<text transform="translate(-308.33,0.00) scale(0.9101,1.0)" font-size="20.8" fill="#1c1c1c">b</text>
<text transform="translate(-284.52,0.00) scale(0.7878,1.0)" font-size="20.8" fill="#1c1c1c">G</text>
<text transform="translate(-271.90,0.00) scale(0.9104,1.0)" font-size="20.8" fill="#1c1c1c">e</text>
<text transform="translate(-261.38,0.00) scale(0.8123,1.0)" font-size="20.8" fill="#1c1c1c">V</text>
<text transform="translate(-356.00,-9.70) scale(1.0721,1.0)" font-size="12.2" fill="#1c1c1c">3</text>
<text transform="translate(-250.28,-10.20) scale(1.1145,1.0)" font-size="12.2" fill="#1c1c1c">2</text>
<text transform="translate(-332.40,0.40) scale(0.9057,1.0)" font-size="25" fill="#1c1c1c">(</text>
<text transform="translate(-242.04,0.40) scale(0.9057,1.0)" font-size="25" fill="#1c1c1c">)</text>
</g>
<path d="M29.6,377.0L7.6,365.6" stroke="#1c1c1c" stroke-width="1.25" fill="none"/>
<path d="M29.6,295.9L7.6,284.8" stroke="#1c1c1c" stroke-width="1.25" fill="none"/>
<g font-family="Liberation Sans, sans-serif" transform="translate(25.3,0) rotate(-90)">
<text transform="translate(-749.00,0.00) scale(0.8202,1.0)" font-size="20.8" fill="#1c1c1c">D</text>
<text transform="translate(-736.28,0.00) scale(0.8886,1.0)" font-size="20.8" fill="#1c1c1c">a</text>
<text transform="translate(-724.67,0.00) scale(0.8639,1.0)" font-size="20.8" fill="#1c1c1c">t</text>
<text transform="translate(-719.38,0.00) scale(0.8886,1.0)" font-size="20.8" fill="#1c1c1c">a</text>
<text transform="translate(-694.93,0.00) scale(0.9344,1.0)" font-size="20.8" fill="#1c1c1c">T</text>
<text transform="translate(-683.46,0.00) scale(0.8772,1.0)" font-size="20.8" fill="#1c1c1c">h</text>
<text transform="translate(-673.43,0.00) scale(0.9513,1.0)" font-size="20.8" fill="#1c1c1c">e</text>
<text transform="translate(-662.43,0.00) scale(0.9473,1.0)" font-size="20.8" fill="#1c1c1c">o</text>
<text transform="translate(-652.47,0.00) scale(0.9231,1.0)" font-size="20.8" fill="#1c1c1c">r</text>
<text transform="translate(-645.84,0.00) scale(0.6022,1.0)" font-size="20.8" fill="#1c1c1c">y</text>
</g>
<path d="M29.6,708.2L7.7,694.3" stroke="#1c1c1c" stroke-width="1.25" fill="none"/>
</svg>
</body></html>
